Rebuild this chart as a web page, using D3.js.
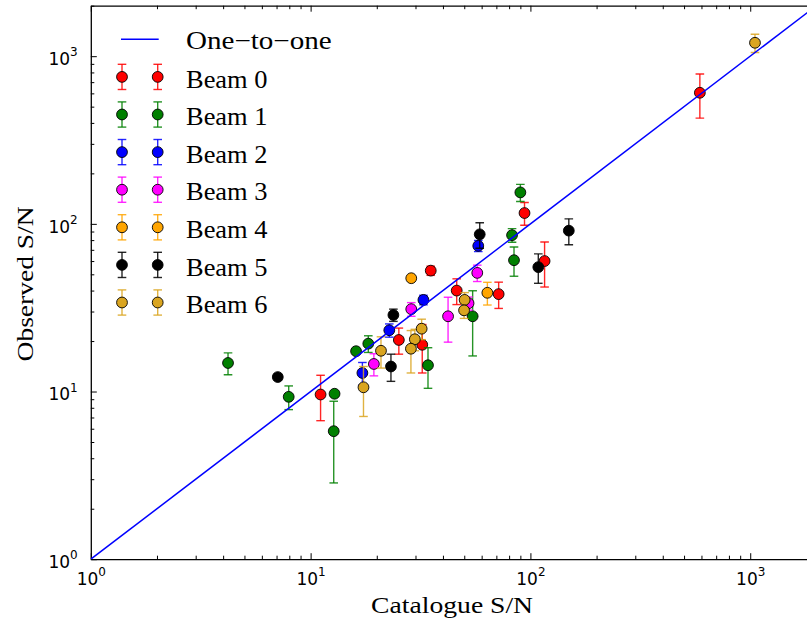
<!DOCTYPE html>
<html>
<head>
<meta charset="utf-8">
<script src="https://cdn.jsdelivr.net/npm/d3@7"></script>
<style>
  body { margin: 0; background: #fff; }
  svg { display: block; }
</style>
</head>
<body>
<svg id="chart" width="807" height="621"></svg>
<script>
// Catalogue vs observed signal-to-noise, one series per beam
const beamNames = ["Beam 0", "Beam 1", "Beam 2", "Beam 3", "Beam 4", "Beam 5", "Beam 6"];

const cat0 = [590, 94, 116, 35.2, 46.2, 71.7, 25.2, 32.2, 11.1];
const obs0 = [605, 116, 60, 52.6, 40, 38.1, 20.3, 19.0, 9.6];
const err0 = [178, 18, 18, 3.3, 7, 6.8, 3.6, 6.1, 2.9];

const cat1 = [90, 82.5, 84.2, 54.6, 34.2, 18.3, 16.1, 12.85, 12.74, 7.95, 4.21];
const obs1 = [154, 85.6, 60.7, 28.1, 14.35, 19.3, 17.4, 9.7, 5.8, 9.3, 14.8];
const err1 = [18, 8, 12, 11.8, 3.9, 2.2, 0.4, 0.3, 2.95, 1.5, 2.2];

const cat2 = [57.9, 32.6, 22.8, 17.2];
const obs2 = [73.9, 35.2, 23.2, 12.9];
const err2 = [5.6, 2.3, 2.1, 2.0];

const cat3 = [57.3, 28.7, 42.2, 19.4, 52.3];
const obs3 = [51.0, 31.0, 28.1, 14.6, 33.6];
const err3 = [5.7, 2.9, 8.4, 2.2, 3.0];

const cat4 = [28.7, 63.7];
const obs4 = [47.4, 38.8];
const err4 = [1.5, 6];

const cat5 = [58.8, 149.5, 108.6, 23.8, 23.2, 7.09];
const obs5 = [86.6, 91.1, 55.2, 28.6, 14.1, 12.2];
const err5 = [15, 16, 11, 2.4, 2.6, 0.5];

const cat6 = [1051, 50.2, 49.9, 32.0, 29.8, 28.6, 20.9, 17.4];
const obs6 = [1202, 35.2, 30.5, 23.7, 20.5, 18.0, 17.5, 10.6];
const err6 = [150, 3.7, 3.2, 3.3, 3.0, 5.1, 3.7, 3.5];

const majorTicks = [1, 10, 100, 1000];
const majorExponents = ["0", "1", "2", "3"];
const axisDomain = [1, 2000];

// ---- styling / layout ----
const beamColors = ["#ff0000", "#008000", "#0000ff", "#ff00ff", "#ffa500", "#000000", "#daa520"];
const catalogue = [cat0, cat1, cat2, cat3, cat4, cat5, cat6];
const observed = [obs0, obs1, obs2, obs3, obs4, obs5, obs6];
const errors = [err0, err1, err2, err3, err4, err5, err6];

const plotLeft = 90.8, plotTop = 5.7, plotW = 725.6, plotH = 553.5;
const svg = d3.select("#chart");

const x = d3.scaleLog().domain(axisDomain).range([plotLeft, plotLeft + plotW]);
const y = d3.scaleLog().domain(axisDomain).range([plotTop + plotH, plotTop]);

const minorTicks = [];
majorTicks.forEach(d => { for (let k = 2; k <= 9; k++) if (d * k <= axisDomain[1]) minorTicks.push(d * k); });

const clipId = "plot-clip";
svg.append("clipPath").attr("id", clipId)
  .append("rect").attr("x", plotLeft).attr("y", plotTop).attr("width", plotW).attr("height", plotH);

// ---- axes (ticks point inward on all four sides) ----
function styleAxis(g) {
  g.selectAll("line").attr("stroke", "#000").attr("stroke-width", 1);
  g.select(".domain").attr("stroke", "#000").attr("stroke-width", 1.3);
}
const MAJ = 6, MIN = 3.5;

const gBottomMinor = svg.append("g").attr("transform", `translate(0,${plotTop + plotH})`)
  .call(d3.axisBottom(x).tickValues(minorTicks).tickSizeInner(-MIN).tickSizeOuter(0).tickFormat(""));
gBottomMinor.select(".domain").remove();
const gBottom = svg.append("g").attr("transform", `translate(0,${plotTop + plotH})`)
  .call(d3.axisBottom(x).tickValues(majorTicks).tickSizeInner(-MAJ).tickSizeOuter(0));
styleAxis(gBottomMinor); styleAxis(gBottom);

const gTopMinor = svg.append("g").attr("transform", `translate(0,${plotTop})`)
  .call(d3.axisTop(x).tickValues(minorTicks).tickSizeInner(-MIN).tickSizeOuter(0).tickFormat(""));
gTopMinor.select(".domain").remove();
const gTop = svg.append("g").attr("transform", `translate(0,${plotTop})`)
  .call(d3.axisTop(x).tickValues(majorTicks).tickSizeInner(-MAJ).tickSizeOuter(0).tickFormat(""));
styleAxis(gTopMinor); styleAxis(gTop);

const gLeftMinor = svg.append("g").attr("transform", `translate(${plotLeft},0)`)
  .call(d3.axisLeft(y).tickValues(minorTicks).tickSizeInner(-MIN).tickSizeOuter(0).tickFormat(""));
gLeftMinor.select(".domain").remove();
const gLeft = svg.append("g").attr("transform", `translate(${plotLeft},0)`)
  .call(d3.axisLeft(y).tickValues(majorTicks).tickSizeInner(-MAJ).tickSizeOuter(0));
styleAxis(gLeftMinor); styleAxis(gLeft);

const gRightMinor = svg.append("g").attr("transform", `translate(${plotLeft + plotW},0)`)
  .call(d3.axisRight(y).tickValues(minorTicks).tickSizeInner(-MIN).tickSizeOuter(0).tickFormat(""));
gRightMinor.select(".domain").remove();
const gRight = svg.append("g").attr("transform", `translate(${plotLeft + plotW},0)`)
  .call(d3.axisRight(y).tickValues(majorTicks).tickSizeInner(-MAJ).tickSizeOuter(0).tickFormat(""));
styleAxis(gRightMinor); styleAxis(gRight);

// power-of-ten tick labels: "10" with a raised exponent
gBottom.selectAll(".tick text").each(function (d, i) {
  const t = d3.select(this).text("")
    .attr("y", 25.8).attr("dy", null).attr("text-anchor", "middle")
    .attr("fill", "#000").style("font-family", "'DejaVu Sans', sans-serif");
  t.append("tspan").attr("font-size", 17).text("10");
  t.append("tspan").attr("font-size", 12).attr("dy", -9).text(majorExponents[i]);
});
gLeft.selectAll(".tick text").each(function (d, i) {
  const t = d3.select(this).text("")
    .attr("x", -13.1).attr("dy", null).attr("y", 8.3).attr("text-anchor", "end")
    .attr("fill", "#000").style("font-family", "'DejaVu Sans', sans-serif");
  t.append("tspan").attr("font-size", 17).text("10");
  t.append("tspan").attr("font-size", 12).attr("dy", -8.8).text(majorExponents[i]);
});

// ---- axis titles ----
svg.append("text")
  .attr("x", plotLeft + plotW / 2 - 1.5).attr("y", 613.3)
  .attr("text-anchor", "middle")
  .attr("textLength", 162).attr("lengthAdjust", "spacingAndGlyphs")
  .style("font-family", "'Liberation Serif', serif").style("font-size", "24px")
  .text("Catalogue S/N");

svg.append("text")
  .attr("transform", `translate(32.5,${plotTop + plotH / 2 + 1.5}) rotate(-90)`)
  .attr("text-anchor", "middle")
  .attr("textLength", 155).attr("lengthAdjust", "spacingAndGlyphs")
  .style("font-family", "'Liberation Serif', serif").style("font-size", "24px")
  .text("Observed S/N");

// ---- data: error bars then markers, beam by beam ----
const plot = svg.append("g").attr("clip-path", `url(#${clipId})`);
const CAP = 4.3, R = 5.4;

beamNames.forEach((name, b) => {
  const pts = catalogue[b].map((c, i) => ({ c, o: observed[b][i], e: errors[b][i] }));
  const g = plot.append("g").attr("class", "beam");
  const col = beamColors[b];
  const bars = g.selectAll("g.err").data(pts).join("g").attr("class", "err")
    .attr("stroke", col).attr("stroke-width", 1.4).attr("stroke-opacity", 0.85);
  bars.append("line")
    .attr("x1", d => x(d.c)).attr("x2", d => x(d.c))
    .attr("y1", d => y(Math.max(d.o - d.e, 0.5))).attr("y2", d => y(d.o + d.e));
  bars.append("line")
    .attr("x1", d => x(d.c) - CAP).attr("x2", d => x(d.c) + CAP)
    .attr("y1", d => y(d.o + d.e)).attr("y2", d => y(d.o + d.e));
  bars.append("line")
    .attr("x1", d => x(d.c) - CAP).attr("x2", d => x(d.c) + CAP)
    .attr("y1", d => y(Math.max(d.o - d.e, 0.5))).attr("y2", d => y(Math.max(d.o - d.e, 0.5)));
  g.selectAll("circle").data(pts).join("circle")
    .attr("cx", d => x(d.c)).attr("cy", d => y(d.o)).attr("r", R)
    .attr("fill", col).attr("stroke", "#000").attr("stroke-width", 0.9);
});

// one-to-one reference line
plot.append("line")
  .attr("x1", x(axisDomain[0])).attr("y1", y(axisDomain[0]))
  .attr("x2", x(axisDomain[1])).attr("y2", y(axisDomain[1]))
  .attr("stroke", "#0000ff").attr("stroke-width", 1.5);

// ---- legend ----
const legend = svg.append("g").style("font-family", "'Liberation Serif', serif").style("font-size", "25px");
const lx1 = 122, lx2 = 157.7, textX = 186, row0 = 39.3, rowStep = 37.6;

legend.append("line").attr("x1", lx1 - 1).attr("x2", lx2 + 1).attr("y1", row0).attr("y2", row0)
  .attr("stroke", "#0000ff").attr("stroke-width", 1.5);
legend.append("text").attr("x", textX).attr("y", row0 + 10)
  .attr("textLength", 145.7).attr("lengthAdjust", "spacingAndGlyphs")
  .text("One\u2212to\u2212one");

beamNames.forEach((name, b) => {
  const cy = row0 + rowStep * (b + 1);
  const col = beamColors[b];
  [lx1, lx2].forEach(cx => {
    const g = legend.append("g");
    const eb = g.append("g").attr("stroke", col).attr("stroke-width", 1.4).attr("stroke-opacity", 0.85);
    eb.append("line").attr("x1", cx).attr("x2", cx).attr("y1", cy - 12.6).attr("y2", cy + 12.6);
    eb.append("line").attr("x1", cx - CAP).attr("x2", cx + CAP).attr("y1", cy - 12.6).attr("y2", cy - 12.6);
    eb.append("line").attr("x1", cx - CAP).attr("x2", cx + CAP).attr("y1", cy + 12.6).attr("y2", cy + 12.6);
    g.append("circle").attr("cx", cx).attr("cy", cy).attr("r", R)
      .attr("fill", col).attr("stroke", "#000").attr("stroke-width", 0.9);
  });
  legend.append("text").attr("x", textX).attr("y", cy + 10.6)
    .attr("textLength", 81.5).attr("lengthAdjust", "spacingAndGlyphs")
    .text(name);
});
</script>
</body>
</html>
